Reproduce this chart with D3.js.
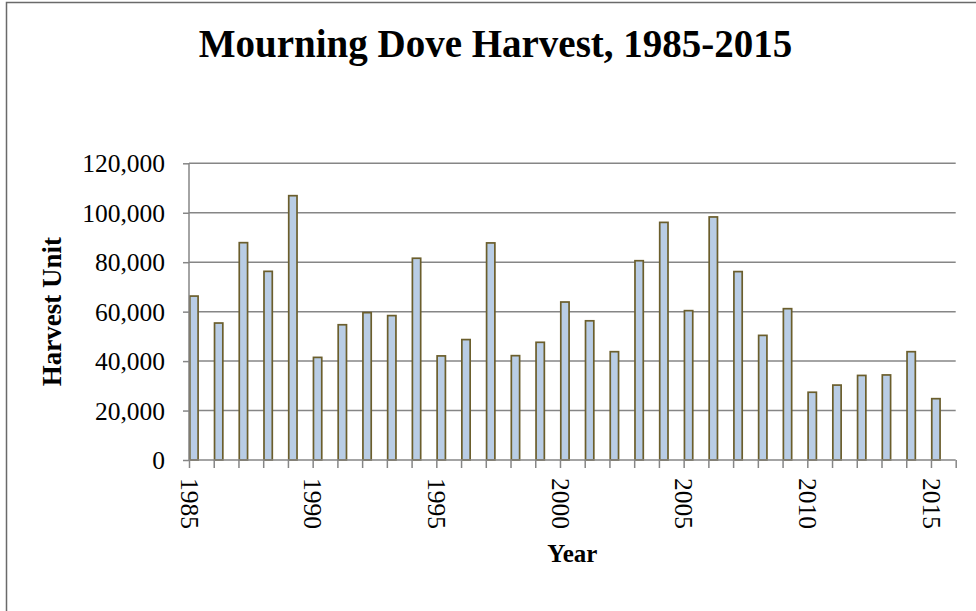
<!DOCTYPE html>
<html>
<head>
<meta charset="utf-8">
<script src="https://cdn.jsdelivr.net/npm/d3@7"></script>
<style>
  html, body { margin: 0; padding: 0; background: #fff; }
  svg { display: block; }
</style>
</head>
<body>
<svg id="chart" width="976" height="611"></svg>
<script>
// ---- data ----
const years = [1985,1986,1987,1988,1989,1990,1991,1992,1993,1994,1995,1996,1997,1998,1999,2000,
               2001,2002,2003,2004,2005,2006,2007,2008,2009,2010,2011,2012,2013,2014,2015];
const harvest = [66300,55400,87900,76300,106900,41500,54700,59600,58400,81600,42100,48700,87800,42200,47600,63900,
                 56300,43800,80600,96100,60400,98300,76200,50400,61200,27400,30300,34200,34400,43800,24800];
const yTicks = [0,20000,40000,60000,80000,100000,120000];
const xLabelYears = [1985,1990,1995,2000,2005,2010,2015];
const titleText = "Mourning Dove Harvest, 1985-2015";
const xTitle = "Year";
const yTitle = "Harvest Unit";

// ---- layout ----
const svg = d3.select("#chart");
const plot = { left: 189, right: 955.7, top: 163.3, bottom: 460 };
const x = d3.scaleLinear().domain([1985, 2016]).range([plot.left, plot.right]);
const y = d3.scaleLinear().domain([0, 120000]).range([plot.bottom, plot.top]);
const step = x(1986) - x(1985);
const barW = step * 0.4;
const serif = "'Liberation Serif', 'Times New Roman', serif";
const gridColor = "#868686";

// outer chart border (partly cropped)
svg.append("rect")
  .attr("x", 6.5).attr("y", 2.5).attr("width", 1000).attr("height", 700)
  .attr("fill", "none").attr("stroke", "#6a6a6a").attr("stroke-width", 1.5);

// title
svg.append("text")
  .attr("x", 495.5).attr("y", 57)
  .attr("text-anchor", "middle")
  .attr("font-family", serif).attr("font-weight", "bold").attr("font-size", 39)
  .text(titleText);

// gridlines
svg.append("g").selectAll("line").data(yTicks.filter(d => d > 0)).join("line")
  .attr("x1", plot.left).attr("x2", plot.right)
  .attr("y1", d => y(d)).attr("y2", d => y(d))
  .attr("stroke", gridColor).attr("stroke-width", 1.5);

// bars
svg.append("g").selectAll("rect").data(years).join("rect")
  .attr("x", d => x(d) + 0.8)
  .attr("width", barW - 1.6)
  .attr("y", (d, i) => y(harvest[i]))
  .attr("height", (d, i) => y(0) - y(harvest[i]))
  .attr("fill", "#b9cde5")
  .attr("stroke", "#6b5e2c").attr("stroke-width", 1.7);

// y axis
const yAxis = d3.axisLeft(y).tickValues(yTicks).tickSize(6).tickPadding(18)
  .tickFormat(d3.format(","));
const gy = svg.append("g").attr("transform", `translate(${plot.left},0)`).call(yAxis);
gy.select(".domain").attr("stroke", gridColor).attr("stroke-width", 1.5)
  .attr("d", `M0,${plot.top}V${plot.bottom}`);
gy.selectAll(".tick line").attr("stroke", gridColor).attr("stroke-width", 1.5);
gy.selectAll(".tick text")
  .attr("font-family", serif).attr("font-size", 25.5).attr("fill", "#000")
  .attr("dy", "0.34em");

// x axis
const xAxis = d3.axisBottom(x).tickValues(d3.range(1985, 2017)).tickSize(8)
  .tickFormat(d => xLabelYears.includes(d) ? String(d) : "");
const gx = svg.append("g").attr("transform", `translate(0,${plot.bottom})`).call(xAxis);
gx.select(".domain").attr("stroke", gridColor).attr("stroke-width", 1.5)
  .attr("d", `M${plot.left},0H${plot.right}`);
gx.selectAll(".tick line").attr("stroke", gridColor).attr("stroke-width", 1.5);
gx.selectAll(".tick text")
  .attr("font-family", serif).attr("font-size", 25.5).attr("fill", "#000")
  .attr("text-anchor", "start")
  .attr("transform", "translate(0,18) rotate(90)")
  .attr("x", 0).attr("y", 0)
  .attr("dy", "0.34em");

// axis titles
svg.append("text")
  .attr("x", (plot.left + plot.right) / 2).attr("y", 562)
  .attr("text-anchor", "middle")
  .attr("font-family", serif).attr("font-weight", "bold").attr("font-size", 25)
  .text(xTitle);

svg.append("text")
  .attr("transform", `translate(61,${(plot.top + plot.bottom) / 2}) rotate(-90)`)
  .attr("text-anchor", "middle")
  .attr("font-family", serif).attr("font-weight", "bold").attr("font-size", 27)
  .text(yTitle);
</script>
</body>
</html>
